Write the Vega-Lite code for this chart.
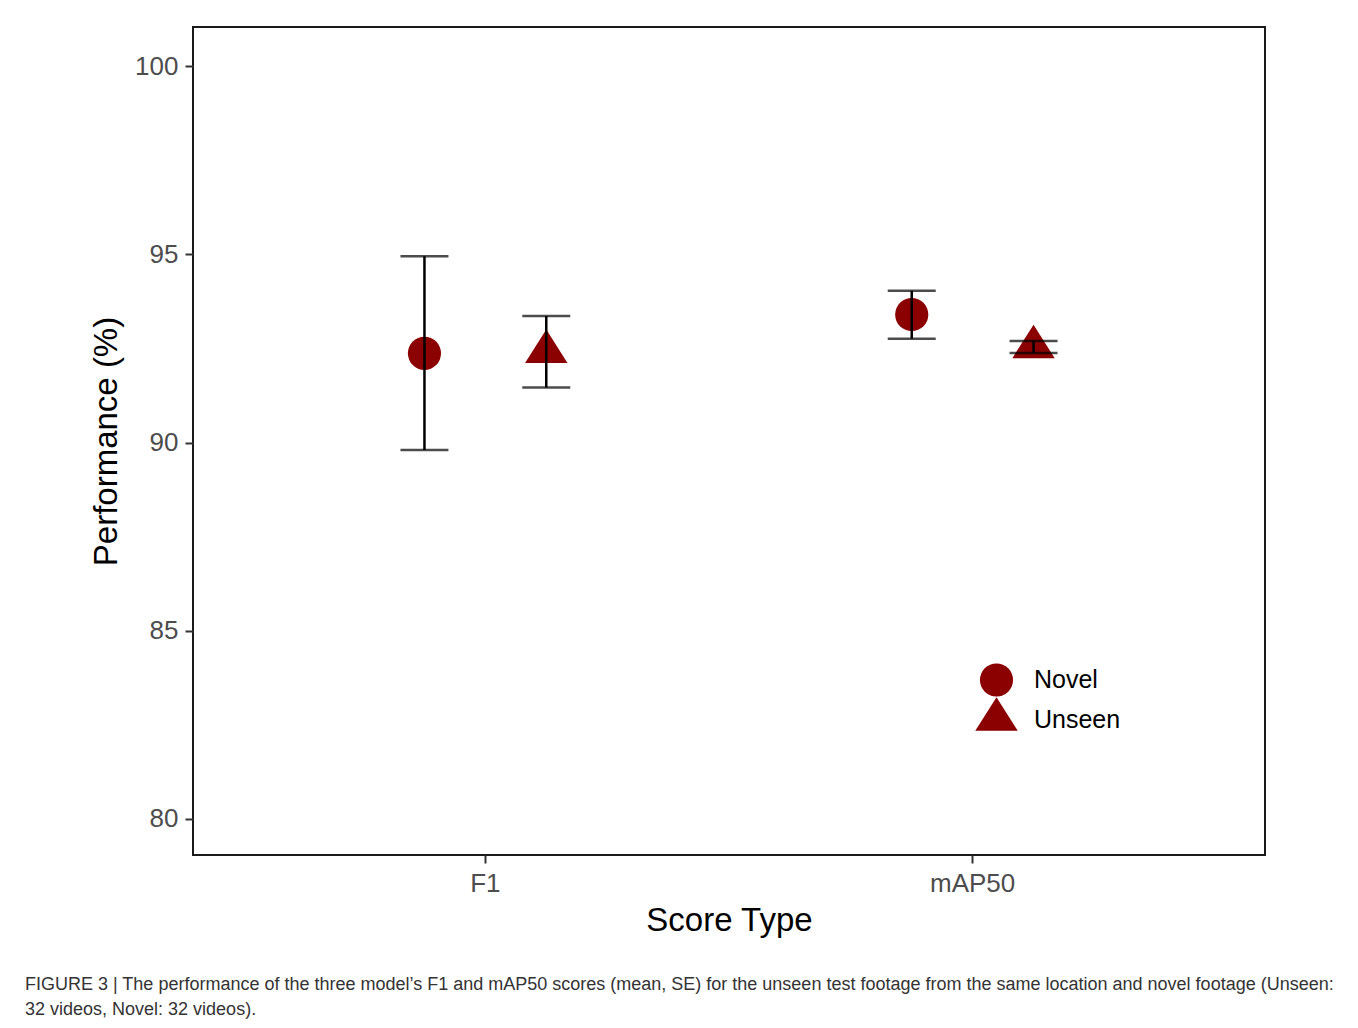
{
  "$schema": "https://vega.github.io/schema/vega-lite/v6.json",
  "width": 1072,
  "height": 828,
  "autosize": {"type": "none"},
  "padding": {"left": 193, "top": 27, "right": 93, "bottom": 173},
  "background": "white",
  "config": {
    "view": {"stroke": "#1a1a1a", "strokeWidth": 2},
    "font": "Liberation Sans"
  },
  "title": {
    "text": ["FIGURE 3 | The performance of the three model’s F1 and mAP50 scores (mean, SE) for the unseen test footage from the same location and novel footage (Unseen:", "32 videos, Novel: 32 videos)."],
    "orient": "bottom",
    "anchor": "start",
    "frame": "group",
    "dx": -168,
    "offset": 39,
    "font": "Liberation Sans",
    "fontSize": 18,
    "fontWeight": "normal",
    "color": "#333333",
    "lineHeight": 25
  },
  "data": {
    "values": [
      {"score": "F1", "group": "Novel", "mean": 92.37, "lo": 89.80, "hi": 94.95},
      {"score": "F1", "group": "Unseen", "mean": 92.41, "lo": 91.46, "hi": 93.36},
      {"score": "mAP50", "group": "Novel", "mean": 93.40, "lo": 92.76, "hi": 94.03},
      {"score": "mAP50", "group": "Unseen", "mean": 92.54, "lo": 92.38, "hi": 92.70}
    ]
  },
  "encoding": {
    "x": {
      "field": "score",
      "type": "nominal",
      "scale": {"paddingInner": 0, "paddingOuter": 0.1},
      "axis": {
        "title": "Score Type",
        "titleFontSize": 33,
        "titleFontWeight": "normal",
        "titleColor": "#000000",
        "titlePadding": 8,
        "labelFontSize": 26,
        "labelColor": "#4d4d4d",
        "labelAngle": 0,
        "labelPadding": 7,
        "tickSize": 8,
        "tickWidth": 2,
        "tickColor": "#333333",
        "domain": false,
        "grid": false
      }
    },
    "xOffset": {
      "field": "group",
      "type": "nominal",
      "scale": {"paddingInner": 0, "paddingOuter": 1.01}
    }
  },
  "layer": [
    {
      "mark": {"type": "point", "filled": true, "color": "#8b0000", "opacity": 1, "strokeWidth": 0},
      "encoding": {
        "y": {
          "field": "mean",
          "type": "quantitative",
          "scale": {"domain": [79.04, 101.04], "nice": false, "zero": false},
          "axis": {
            "title": "Performance (%)",
            "titleFontSize": 33,
            "titleFontWeight": "normal",
            "titleColor": "#000000",
            "titlePadding": 11,
            "values": [80, 85, 90, 95, 100],
            "labelFontSize": 26,
            "labelColor": "#4d4d4d",
            "labelPadding": 7,
            "tickSize": 8,
            "tickWidth": 2,
            "tickColor": "#333333",
            "domain": false,
            "grid": false
          }
        },
        "shape": {
          "field": "group",
          "type": "nominal",
          "scale": {"domain": ["Novel", "Unseen"], "range": ["circle", "M0,-1.05L1,0.53L-1,0.53Z"]},
          "legend": {
            "title": null,
            "orient": "none",
            "legendX": 782,
            "legendY": 636,
            "labelFontSize": 25,
            "labelColor": "#000000",
            "labelOffset": 16,
            "rowPadding": 0,
            "padding": 0,
            "symbolFillColor": "#8b0000",
            "symbolStrokeWidth": 0
          }
        },
        "size": {
          "field": "group",
          "type": "nominal",
          "scale": {"domain": ["Novel", "Unseen"], "range": [1100, 1800]}
        }
      }
    },
    {
      "mark": {"type": "rule", "color": "#000000", "strokeWidth": 2.5},
      "encoding": {
        "y": {"field": "lo", "type": "quantitative"},
        "y2": {"field": "hi"}
      }
    },
    {
      "mark": {"type": "tick", "color": "#000000", "thickness": 2.5, "size": 48, "orient": "horizontal"},
      "encoding": {
        "y": {"field": "lo", "type": "quantitative"}
      }
    },
    {
      "mark": {"type": "tick", "color": "#000000", "thickness": 2.5, "size": 48, "orient": "horizontal"},
      "encoding": {
        "y": {"field": "hi", "type": "quantitative"}
      }
    }
  ]
}
